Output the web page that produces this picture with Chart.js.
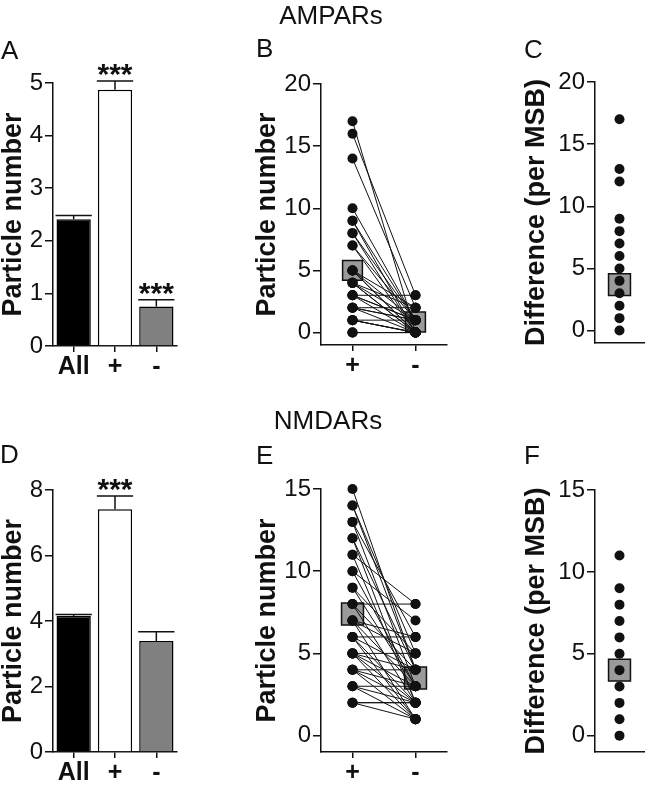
<!DOCTYPE html>
<html>
<head>
<meta charset="utf-8">
<script src="https://cdn.jsdelivr.net/npm/chart.js@4.4.0/dist/chart.umd.min.js"></script>
<style>
body { margin: 0; background: #fff; }
#fig { position: relative; width: 661px; height: 788px; font-family: "Liberation Sans", Arial, sans-serif; color: #111; }
#fig canvas { position: absolute; left: 0; top: 0; }
.t { position: absolute; font-size: 26px; line-height: 1; white-space: nowrap; }
</style>
</head>
<body>
<div id="fig">
  <canvas id="cA" width="661" height="788"></canvas>
  <canvas id="cB" width="661" height="788"></canvas>
  <canvas id="cC" width="661" height="788"></canvas>
  <canvas id="cD" width="661" height="788"></canvas>
  <canvas id="cE" width="661" height="788"></canvas>
  <canvas id="cF" width="661" height="788"></canvas>

  <div class="t" style="left:331px;top:2px;transform:translateX(-50%)">AMPARs</div>
  <div class="t" style="left:328px;top:407px;transform:translateX(-50%)">NMDARs</div>
  <div class="t" style="left:1px;top:37px">A</div>
  <div class="t" style="left:256px;top:35px">B</div>
  <div class="t" style="left:524px;top:36px">C</div>
  <div class="t" style="left:0px;top:441px">D</div>
  <div class="t" style="left:256px;top:442px">E</div>
  <div class="t" style="left:524px;top:442px">F</div>
</div>

<script>
// Данные
const barLabels = ['All', '+', '-'];
const ampaBars = [2.41, 4.87, 0.75];
const ampaSem = [0.07, 0.17, 0.13];
const ampaStars = ['', '***', '***'];
const nmdaBars = [4.15, 7.41, 3.39];
const nmdaSem = [0.05, 0.41, 0.28];
const nmdaStars = ['', '***', ''];

const pairLabels = ['+', '-'];
const ampaPlus  = [17, 16, 14, 10, 9, 9, 8, 8, 7, 7, 5, 5, 5, 5, 4, 4, 4, 3, 3, 3, 3, 2, 2, 2, 2, 1, 1, 1, 0, 0, 4, 0, 1];
const ampaMinus = [0, 3, 2, 1, 0, 1, 0, 1, 0, 1, 0, 1, 2, 0, 0, 1, 2, 0, 1, 3, 1, 0, 1, 2, 1, 0, 1, 0, 0, 0, 0, 0, 0];
const ampaPairMean = [5.0, 0.85];

const nmdaPlus  = [15, 14, 14, 13, 13, 12, 12, 11, 11, 10, 10, 9, 9, 8, 8, 8, 7, 7, 7, 7, 6, 6, 6, 6, 5, 5, 5, 5, 5, 4, 4, 4, 4, 3, 3, 3, 2, 2, 2];
const nmdaMinus = [4, 5, 4, 3, 6, 4, 2, 8, 2, 7, 3, 5, 3, 8, 4, 2, 6, 3, 1, 5, 6, 2, 4, 1, 5, 4, 1, 3, 2, 3, 1, 4, 2, 3, 1, 2, 1, 2, 2];
const nmdaPairMean = [7.4, 3.5];

const ampaDiff = [0, 1, 2, 3, 4, 5, 6, 7, 8, 9, 12, 13, 17];
const ampaDiffMean = 3.7;
const nmdaDiff = [0, 1, 2, 3, 4, 5, 6, 7, 8, 9, 11];
const nmdaDiffMean = 4.0;

const ampaBarTicks = [0, 1, 2, 3, 4, 5];
const nmdaBarTicks = [0, 2, 4, 6, 8];
const ampaPairTicks = [0, 5, 10, 15, 20];
const nmdaPairTicks = [0, 5, 10, 15];

// Стиль
const INK = '#111';
const FONT = '"Liberation Sans", Arial, sans-serif';
const tickFont = { family: FONT, size: 24 };
const labelFont = { family: FONT, size: 25, weight: 'bold' };
const titleFont = { family: FONT, size: 27, weight: 'bold', lineHeight: 1 };

function pad(area, yW, xH) {
    return { left: area.l - yW, top: area.t, right: 661 - area.r, bottom: 788 - area.b - xH };
}

function yAxis(min, max, ticks, width, title) {
    return {
        min: min, max: max,
        afterBuildTicks: s => { s.ticks = ticks.map(v => ({ value: v })); },
        afterFit: s => { s.width = width; },
        grid: { drawOnChartArea: false, tickLength: 8, color: INK, lineWidth: 1.5 },
        border: { color: INK, width: 1.5 },
        ticks: { font: tickFont, color: INK, padding: 2 },
        title: { display: true, text: title, font: titleFont, color: INK, padding: 0 }
    };
}

// Планки ошибок и звёздочки
function errorPlugin(sem, stars) {
    return {
        id: 'errbars',
        afterDatasetsDraw(chart) {
            const ctx = chart.ctx;
            const y = chart.scales.y;
            const vals = chart.data.datasets[0].data;
            chart.getDatasetMeta(0).data.forEach((bar, i) => {
                const top = y.getPixelForValue(vals[i] + sem[i]);
                const half = bar.width / 2 + 1;
                ctx.save();
                ctx.strokeStyle = INK;
                ctx.lineWidth = 1.5;
                ctx.beginPath();
                ctx.moveTo(bar.x, bar.y);
                ctx.lineTo(bar.x, top);
                ctx.moveTo(bar.x - half, top);
                ctx.lineTo(bar.x + half, top);
                ctx.stroke();
                if (stars[i]) {
                    ctx.fillStyle = INK;
                    ctx.font = 'bold 30px ' + FONT;
                    ctx.textAlign = 'center';
                    ctx.textBaseline = 'alphabetic';
                    ctx.fillText(stars[i], bar.x, top + 3);
                }
                ctx.restore();
            });
        }
    };
}

function barChart(id, values, sem, stars, yMax, ticks, area) {
    new Chart(document.getElementById(id), {
        type: 'bar',
        data: {
            labels: barLabels,
            datasets: [{
                data: values,
                backgroundColor: ['#000', '#fff', '#808080'],
                borderColor: '#000',
                borderWidth: 1.5,
                barPercentage: 0.83,
                categoryPercentage: 1
            }]
        },
        options: {
            responsive: false,
            animation: false,
            layout: { padding: pad(area, 53, 40) },
            plugins: { legend: { display: false }, tooltip: { enabled: false } },
            scales: {
                x: {
                    offset: true,
                    afterFit: s => { s.height = 40; },
                    grid: { offset: false, drawOnChartArea: false, tickLength: 6, color: INK, lineWidth: 1.5 },
                    border: { color: INK, width: 1.5 },
                    ticks: { font: labelFont, color: INK, padding: 0 }
                },
                y: yAxis(0, yMax, ticks, 53, 'Particle number')
            }
        },
        plugins: [errorPlugin(sem, stars)]
    });
}

function pairChart(id, plus, minus, mean, yMax, ticks, area, box) {
    const datasets = plus.map((p, i) => ({
        data: [{ x: 0, y: p }, { x: 1, y: minus[i] }],
        borderColor: INK,
        borderWidth: 1,
        pointRadius: 5,
        pointBackgroundColor: INK,
        pointBorderWidth: 0,
        clip: false,
        order: 0
    }));
    datasets.push({
        data: mean.map((m, i) => ({ x: i, y: m })),
        showLine: false,
        pointStyle: 'rect',
        pointRadius: box,
        pointBackgroundColor: '#9a9a9a',
        pointBorderColor: INK,
        pointBorderWidth: 1.5,
        clip: false,
        order: 1
    });
    new Chart(document.getElementById(id), {
        type: 'line',
        data: { datasets: datasets },
        options: {
            responsive: false,
            animation: false,
            layout: { padding: pad(area, 67, 40) },
            plugins: { legend: { display: false }, tooltip: { enabled: false } },
            scales: {
                x: {
                    type: 'linear', min: -0.5, max: 1.5,
                    afterBuildTicks: s => { s.ticks = [{ value: 0 }, { value: 1 }]; },
                    afterFit: s => { s.height = 40; },
                    grid: { drawOnChartArea: false, tickLength: 6, color: INK, lineWidth: 1.5 },
                    border: { color: INK, width: 1.5 },
                    ticks: { font: labelFont, color: INK, padding: 0, callback: v => pairLabels[v] }
                },
                y: yAxis(-1, yMax, ticks, 67, 'Particle number')
            }
        }
    });
}

function diffChart(id, diff, mean, yMax, ticks, area) {
    new Chart(document.getElementById(id), {
        type: 'scatter',
        data: {
            datasets: [{
                data: diff.map(v => ({ x: 0, y: v })),
                pointRadius: 5,
                pointBackgroundColor: INK,
                pointBorderWidth: 0,
                clip: false,
                order: 0
            }, {
                data: [{ x: 0, y: mean }],
                pointStyle: 'rect',
                pointRadius: 15.5,
                pointBackgroundColor: '#9a9a9a',
                pointBorderColor: INK,
                pointBorderWidth: 1.5,
                order: 1
            }]
        },
        options: {
            responsive: false,
            animation: false,
            layout: { padding: pad(area, 72, 10) },
            plugins: { legend: { display: false }, tooltip: { enabled: false } },
            scales: {
                x: {
                    type: 'linear', min: -1, max: 1,
                    afterFit: s => { s.height = 10; },
                    grid: { display: false },
                    border: { color: INK, width: 1.5 },
                    ticks: { display: false }
                },
                y: yAxis(-1, yMax, ticks, 72, 'Difference (per MSB)')
            }
        }
    });
}

barChart('cA', ampaBars, ampaSem, ampaStars, 5, ampaBarTicks, { l: 53, r: 177, t: 83, b: 346 });
pairChart('cB', ampaPlus, ampaMinus, ampaPairMean, 20, ampaPairTicks, { l: 321, r: 447, t: 84, b: 345 }, 14);
diffChart('cC', ampaDiff, ampaDiffMean, 20, ampaPairTicks, { l: 595, r: 658, t: 82, b: 343 });
barChart('cD', nmdaBars, nmdaSem, nmdaStars, 8, nmdaBarTicks, { l: 53, r: 177, t: 490, b: 752 });
pairChart('cE', nmdaPlus, nmdaMinus, nmdaPairMean, 15, nmdaPairTicks, { l: 321, r: 447, t: 489, b: 752 }, 15.5);
diffChart('cF', nmdaDiff, nmdaDiffMean, 15, nmdaPairTicks, { l: 595, r: 658, t: 490, b: 752 });
</script>
</body>
</html>
